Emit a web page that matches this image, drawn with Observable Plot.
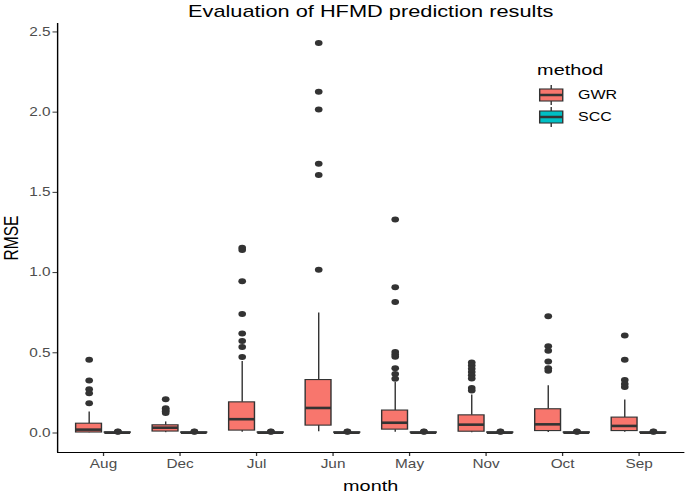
<!DOCTYPE html>
<html><head><meta charset="utf-8">
<script src="https://cdn.jsdelivr.net/npm/d3@7"></script>
<script src="https://cdn.jsdelivr.net/npm/@observablehq/plot@0.6"></script>
<style>
html,body{margin:0;padding:0;background:#fff;overflow:hidden;}
#wrap{position:relative;width:535px;height:496px;transform:scaleX(1.2804);transform-origin:0 0;font-family:"Liberation Sans",Arial,Helvetica,sans-serif;}
#chart{position:absolute;left:0;top:0;}
.ttl{position:absolute;top:2px;left:44.5px;width:490px;text-align:center;font-size:17px;line-height:20px;color:#000;white-space:nowrap;}
.xt{position:absolute;top:477px;left:44.5px;width:490px;text-align:center;font-size:15.5px;line-height:18px;color:#000;}
.yt{position:absolute;top:229px;left:-40.6px;width:100px;height:18px;line-height:18px;text-align:center;font-size:15.5px;color:#000;transform:rotate(-90deg);transform-origin:50% 50%;}
#legend{position:absolute;left:410px;top:56px;}
</style>
</head><body>
<div id="wrap">
  <div id="chart"></div>
  <div class="ttl">Evaluation of HFMD prediction results</div>
  <div class="yt">RMSE</div>
  <div class="xt">month</div>
  <div id="legend"></div>
</div>
<script>
// ---- data ----
const months = ["Aug","Dec","Jul","Jun","May","Nov","Oct","Sep"];
const methods = ["GWR","SCC"];
const methodColors = ["#F8766D","#00BFC4"];
const yTicks = [0, 0.5, 1.0, 1.5, 2.0, 2.5];

const gwrLower  = [0.001, 0.002, 0.004, 0.008, 0.005, 0.002, 0.003, 0.004];
const gwrQ1     = [0.003, 0.009, 0.015, 0.046, 0.021, 0.008, 0.012, 0.012];
const gwrMedian = [0.021, 0.033, 0.086, 0.156, 0.064, 0.052, 0.054, 0.044];
const gwrQ3     = [0.058, 0.048, 0.191, 0.330, 0.140, 0.110, 0.148, 0.096];
const gwrUpper  = [0.131, 0.069, 0.446, 0.748, 0.315, 0.237, 0.294, 0.206];
const gwrOutliers = [
  [0.456, 0.327, 0.273, 0.248, 0.186],
  [0.210, 0.155, 0.145, 0.135, 0.125],
  [1.155, 1.140, 0.946, 0.742, 0.620, 0.573, 0.536, 0.473],
  [2.431, 2.127, 2.017, 1.679, 1.608, 1.017],
  [1.331, 0.908, 0.817, 0.505, 0.490, 0.475, 0.404, 0.367, 0.338],
  [0.440, 0.420, 0.400, 0.380, 0.360, 0.340, 0.280, 0.265],
  [0.727, 0.540, 0.513, 0.446, 0.404, 0.388],
  [0.608, 0.456, 0.331, 0.306, 0.286]
];

const sccLower  = [0.000, 0.000, 0.000, 0.000, 0.000, 0.000, 0.000, 0.000];
const sccQ1     = [0.001, 0.001, 0.001, 0.001, 0.001, 0.001, 0.001, 0.001];
const sccMedian = [0.002, 0.002, 0.002, 0.002, 0.002, 0.002, 0.002, 0.002];
const sccQ3     = [0.004, 0.004, 0.004, 0.004, 0.004, 0.004, 0.004, 0.004];
const sccUpper  = [0.006, 0.006, 0.006, 0.006, 0.006, 0.006, 0.006, 0.006];
const sccOutliers = [
  [0.008, 0.010], [0.008, 0.010], [0.008, 0.010], [0.008, 0.010],
  [0.008, 0.010], [0.008, 0.010], [0.008, 0.010], [0.008, 0.010]
];

// ---- build table (dodged like ggplot: width 0.75, padding 0.1) ----
const dodge = 0.75;
const slot = dodge / methods.length;
const half = slot * 0.9 / 2;
const stats = [
  {lower: gwrLower, q1: gwrQ1, med: gwrMedian, q3: gwrQ3, upper: gwrUpper, out: gwrOutliers},
  {lower: sccLower, q1: sccQ1, med: sccMedian, q3: sccQ3, upper: sccUpper, out: sccOutliers}
];
const boxes = [];
const outliers = [];
months.forEach((m, i) => {
  methods.forEach((meth, k) => {
    const s = stats[k];
    const cx = i - dodge / 2 + slot * (k + 0.5);
    boxes.push({month: m, method: meth, cx, x1: cx - half, x2: cx + half,
      lower: s.lower[i], q1: s.q1[i], med: s.med[i], q3: s.q3[i], upper: s.upper[i]});
    s.out[i].forEach(v => outliers.push({month: m, method: meth, cx, value: v}));
  });
});

const allVals = boxes.flatMap(b => [b.lower, b.upper]).concat(outliers.map(o => o.value));
const yMin = d3.min(allVals), yMax = d3.max(allVals);
const yPad = (yMax - yMin) * 0.05;
const yDomain = [yMin - yPad, yMax + yPad];
const xDomain = [-0.6, months.length - 1 + 0.6];
const colorOf = Object.fromEntries(methods.map((m, k) => [m, methodColors[k]]));

const plot = Plot.plot({
  width: 535,
  height: 496,
  marginLeft: 44.5,
  marginRight: 0.5,
  marginTop: 23,
  marginBottom: 44,
  style: {fontFamily: '"Liberation Sans", Arial, sans-serif', fontSize: "12px", background: "transparent", color: "#4d4d4d"},
  x: {domain: xDomain, axis: null},
  y: {domain: yDomain, axis: null},
  marks: [
    Plot.ruleX(boxes, {x: "cx", y1: "lower", y2: "q1", stroke: "#333333", strokeWidth: 1.1}),
    Plot.ruleX(boxes, {x: "cx", y1: "q3", y2: "upper", stroke: "#333333", strokeWidth: 1.1}),
    Plot.rect(boxes, {x1: "x1", x2: "x2", y1: "q1", y2: "q3", fill: d => colorOf[d.method], stroke: "#333333", strokeWidth: 1.1}),
    Plot.ruleY(boxes, {x1: "x1", x2: "x2", y: "med", stroke: "#333333", strokeWidth: 2.6}),
    Plot.dot(outliers, {x: "cx", y: "value", r: 3, fill: "#333333", stroke: null}),
    Plot.axisX({ticks: months.map((_, i) => i), tickFormat: i => months[i], tickSize: 4, tickPadding: 3, label: null, stroke: "#333333", fill: "#4d4d4d", fontSize: 12}),
    Plot.axisY({ticks: yTicks, tickFormat: d3.format(".1f"), tickSize: 3.5, tickPadding: 2, label: null, stroke: "#333333", fill: "#4d4d4d", fontSize: 12}),
    Plot.ruleX([xDomain[0]], {stroke: "#000", strokeWidth: 1.1}),
    Plot.ruleY([yDomain[0]], {stroke: "#000", strokeWidth: 1.1})
  ]
});
document.getElementById("chart").appendChild(plot);

// ---- legend (boxplot key glyphs) ----
const lg = d3.select("#legend").append("svg").attr("width", 110).attr("height", 80)
  .style("font-family", '"Liberation Sans", Arial, sans-serif');
lg.append("text").attr("x", 9.5).attr("y", 19).attr("font-size", 15.5).attr("fill", "#000").text("method");
methods.forEach((m, k) => {
  const cy = 39 + k * 22;
  const g = lg.append("g");
  g.append("line").attr("x1", 20.5).attr("x2", 20.5).attr("y1", cy - 10).attr("y2", cy + 10).attr("stroke", "#333").attr("stroke-width", 1.1);
  g.append("rect").attr("x", 11.5).attr("y", cy - 6).attr("width", 18).attr("height", 12).attr("fill", methodColors[k]).attr("stroke", "#333").attr("stroke-width", 1.1);
  g.append("line").attr("x1", 11.5).attr("x2", 29.5).attr("y1", cy).attr("y2", cy).attr("stroke", "#333").attr("stroke-width", 2.4);
  g.append("text").attr("x", 41.5).attr("y", cy).attr("dy", "0.35em").attr("font-size", 12.5).attr("fill", "#000").text(m);
});
</script>
</body></html>
